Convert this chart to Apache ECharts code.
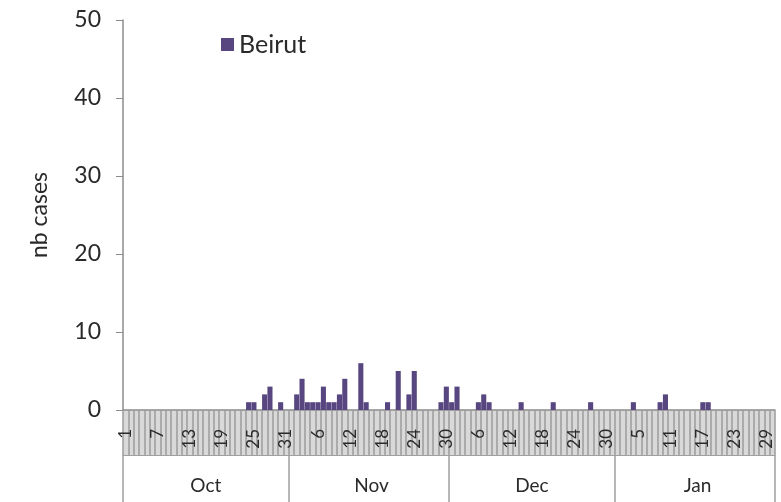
<!DOCTYPE html>
<html>
<head>
<meta charset="utf-8">
<script src="https://cdn.jsdelivr.net/npm/echarts@6/dist/echarts.min.js"></script>
<style>
html,body{margin:0;padding:0;background:#fff;}
#chart{width:781px;height:502px;}
</style>
</head>
<body>
<div id="chart"></div>
<script>
// Months shown and number of days for each (Oct 1 .. Jan 30)
const months = ['Oct', 'Nov', 'Dec', 'Jan'];
const monthDays = [31, 30, 31, 30];
// Daily case counts, Beirut (one value per day, Oct 1 .. Jan 30)
const octValues = [0,0,0,0,0,0,0,0,0,0, 0,0,0,0,0,0,0,0,0,0, 0,0,0,1,1,0,2,3,0,1, 0];
const novValues = [0,2,4,1,1,1,3,1,1,2, 4,0,0,6,1,0,0,0,1,0, 5,0,2,5,0,0,0,0,1,3];
const decValues = [1,3,0,0,0,1,2,1,0,0, 0,0,0,1,0,0,0,0,0,1, 0,0,0,0,0,0,1,0,0,0, 0];
const janValues = [0,0,0,1,0,0,0,0,1,2, 0,0,0,0,0,0,1,1,0,0, 0,0,0,0,0,0,0,0,0,0];
const seriesName = 'Beirut';
const yTicks = [0, 10, 20, 30, 40, 50];

const values = [].concat(octValues, novValues, decValues, janValues);
const dayLabels = [];
const monthOfDay = [];
const monthStarts = [];
const monthMids = [];
let idx = 0;
months.forEach((m, k) => {
  monthStarts.push(idx);
  monthMids.push(idx + Math.floor(monthDays[k] / 2));
  for (let d = 1; d <= monthDays[k]; d++) {
    dayLabels.push(String(d));
    monthOfDay.push(m);
    idx++;
  }
});
monthStarts.push(idx);

const font = 'Lato, "Open Sans", sans-serif';
const textColor = '#2a2a2a';
const chart = echarts.init(document.getElementById('chart'));
chart.setOption({
  backgroundColor: '#fff',
  animation: false,
  textStyle: { fontFamily: font },
  graphic: [{
    type: 'rect', z: -10, silent: true,
    shape: { x: 123, y: 410, width: 652, height: 45 },
    style: { fill: '#d9d9d9' }
  }],
  legend: {
    left: 216, top: 27,
    itemWidth: 13, itemHeight: 13, itemGap: 4,
    icon: 'rect',
    textStyle: { fontSize: 25, color: textColor, fontFamily: font },
    data: [seriesName]
  },
  grid: { left: 123, right: 6, top: 20, bottom: 92 },
  xAxis: [
    {
      type: 'category',
      data: dayLabels,
      position: 'bottom',
      axisLine: { show: true, lineStyle: { color: '#8c8c8c', width: 1.5 } },
      axisTick: { show: true, interval: 0, length: 45, lineStyle: { color: '#9c9c9c', width: 1.5 } },
      axisLabel: {
        interval: 5, rotate: 90, fontSize: 17, color: textColor, margin: 19, fontFamily: font
      }
    },
    {
      type: 'category',
      data: monthOfDay,
      position: 'bottom',
      offset: 45,
      axisLine: { show: true, lineStyle: { color: '#a0a0a0', width: 1 } },
      axisTick: {
        show: true, length: 50,
        interval: (i) => monthStarts.indexOf(i) >= 0,
        lineStyle: { color: '#a0a0a0', width: 1.5 }
      },
      axisLabel: {
        interval: (i) => monthMids.indexOf(i) >= 0,
        fontSize: 19, color: textColor, margin: 21, fontFamily: font
      }
    }
  ],
  yAxis: {
    type: 'value',
    min: yTicks[0], max: yTicks[yTicks.length - 1], interval: 10,
    name: 'nb cases',
    nameLocation: 'middle', nameRotate: 90, nameGap: 72,
    nameTextStyle: { fontSize: 23, color: textColor, fontFamily: font },
    axisLine: { show: true, lineStyle: { color: '#8c8c8c', width: 1.5 } },
    axisTick: { show: true, length: 7, lineStyle: { color: '#8c8c8c' } },
    axisLabel: { fontSize: 23, color: textColor, margin: 22, fontFamily: font },
    splitLine: { show: false }
  },
  series: [{
    name: seriesName,
    type: 'bar',
    data: values,
    barCategoryGap: '5%',
    itemStyle: { color: '#57467f' }
  }]
});
</script>
</body>
</html>
